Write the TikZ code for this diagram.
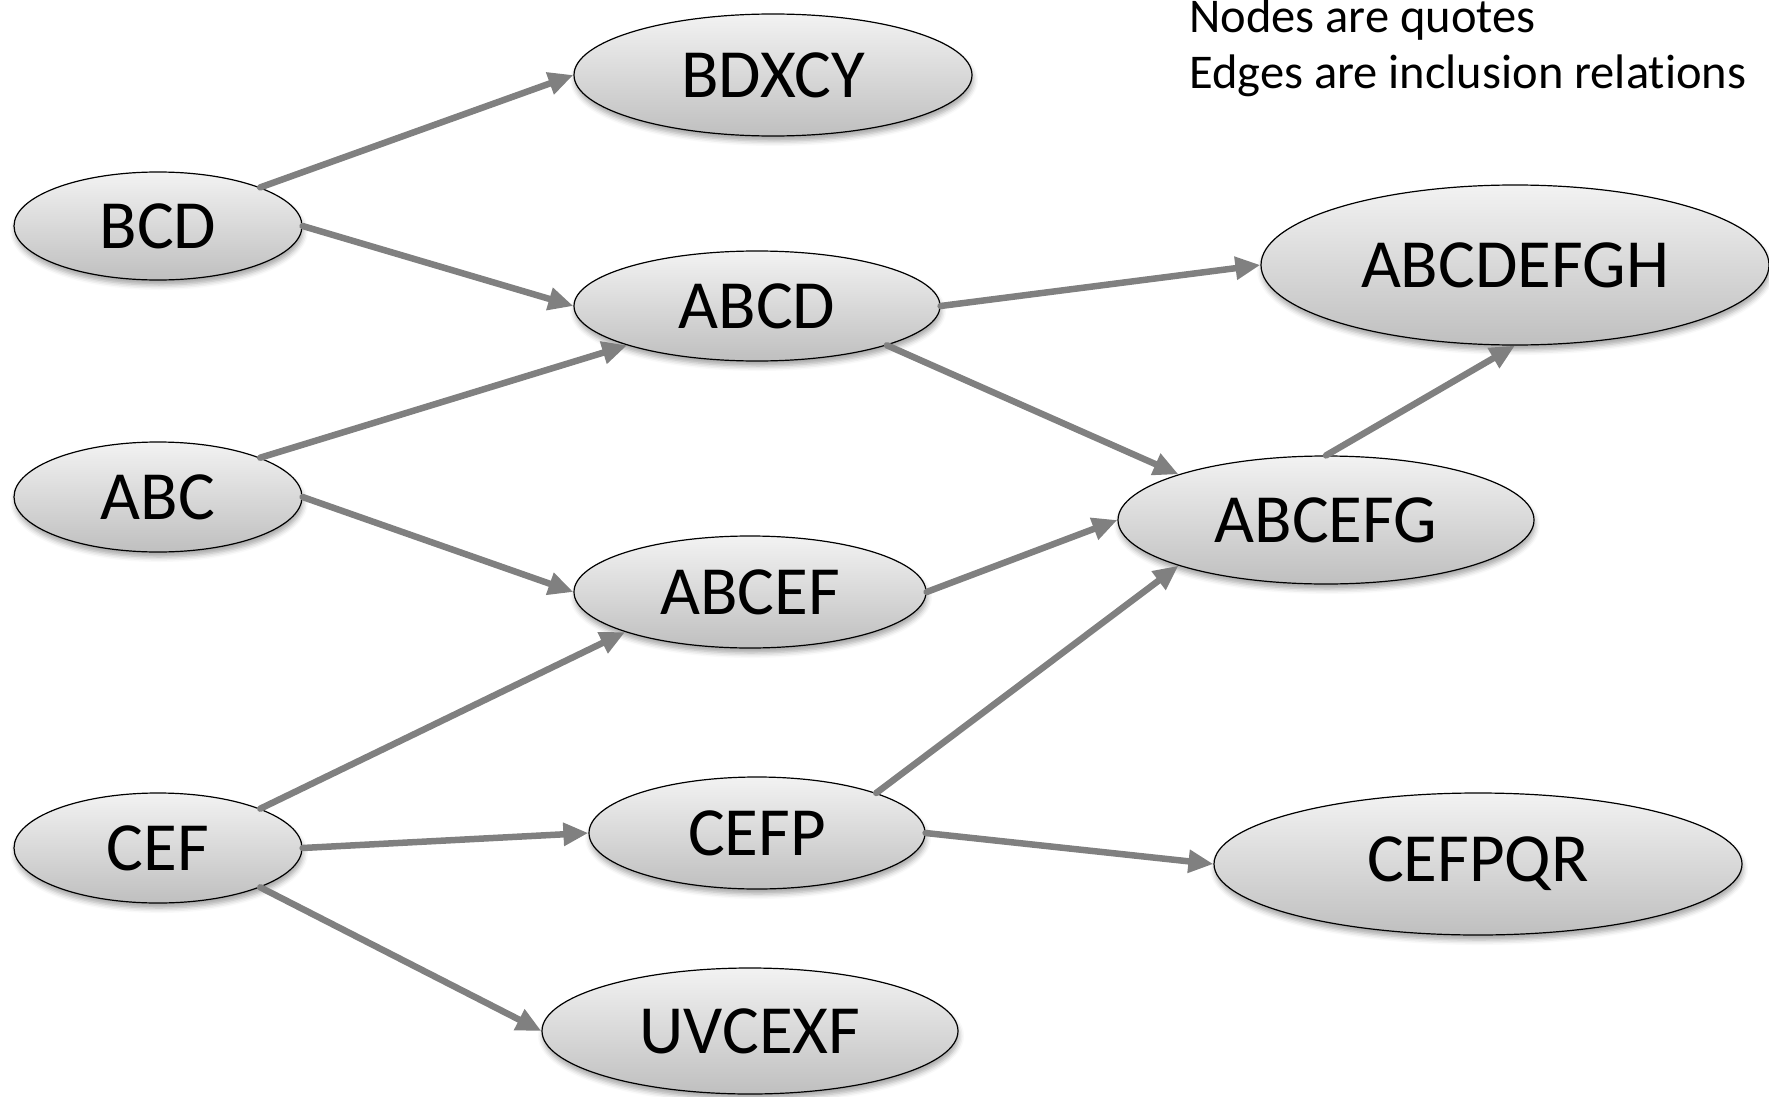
\documentclass[tikz,border=0pt]{standalone}
\usepackage{fontspec}
\setmainfont{Carlito}[Ligatures=NoCommon]
\usetikzlibrary{shapes.geometric,arrows.meta,shadows.blur}
\definecolor{arrowgray}{HTML}{808080}
\begin{document}
\begin{tikzpicture}[x=1pt,y=-1pt,
  qnode/.style={ellipse, draw=black, line width=1.2pt, top color=black!5, bottom color=black!25,
    inner sep=0pt, font=\fontsize{69}{69}\selectfont,
    blur shadow={shadow xshift=1pt, shadow yshift=-5pt, shadow blur radius=5pt, shadow opacity=35}},
  incl/.style={draw=arrowgray, line width=6.5pt, line cap=round, -{Triangle[length=25pt,width=22pt]}},
  note/.style={anchor=base west, inner sep=0pt, font=\fontsize{48.5}{58}\selectfont}
]
\useasboundingbox (0,0) rectangle (1769,1097);
\node[qnode, minimum width=398pt, minimum height=122pt] (bdxcy) at (773,75) {BDXCY};
\node[qnode, minimum width=288pt, minimum height=108pt] (bcd) at (158,226) {BCD};
\node[qnode, minimum width=366pt, minimum height=110pt] (abcd) at (757,306) {ABCD};
\node[qnode, minimum width=508pt, minimum height=160pt] (abcdefgh) at (1515,265) {ABCDEFGH};
\node[qnode, minimum width=288pt, minimum height=110pt] (abc) at (158,497) {ABC};
\node[qnode, minimum width=416pt, minimum height=128pt] (abcefg) at (1326,520) {ABCEFG};
\node[qnode, minimum width=352pt, minimum height=112pt] (abcef) at (750,592) {ABCEF};
\node[qnode, minimum width=288pt, minimum height=110pt] (cef) at (158,848) {CEF};
\node[qnode, minimum width=336pt, minimum height=112pt] (cefp) at (757,833) {CEFP};
\node[qnode, minimum width=528pt, minimum height=142pt] (cefpqr) at (1478,864) {CEFPQR};
\node[qnode, minimum width=416pt, minimum height=126pt] (uvcexf) at (750,1031) {UVCEXF};

\node[note] (note1) at (1189,33) {Nodes are quotes};
\node[note] (note2) at (1189,89) {Edges are inclusion relations};

\draw[incl] (bcd.north east) -- (bdxcy.west);
\draw[incl] (bcd.east) -- (abcd.west);
\draw[incl] (abc.north east) -- (abcd.south west);
\draw[incl] (abc.east) -- (abcef.west);
\draw[incl] (cef.north east) -- (abcef.south west);
\draw[incl] (cef.east) -- (cefp.west);
\draw[incl] (cef.south east) -- (uvcexf.west);
\draw[incl] (abcd.east) -- (abcdefgh.west);
\draw[incl] (abcd.south east) -- (abcefg.north west);
\draw[incl] (abcef.east) -- (abcefg.west);
\draw[incl] (cefp.north east) -- (abcefg.south west);
\draw[incl] (cefp.east) -- (cefpqr.west);
\draw[incl] (abcefg.north) -- (abcdefgh.south);
\end{tikzpicture}
\end{document}
